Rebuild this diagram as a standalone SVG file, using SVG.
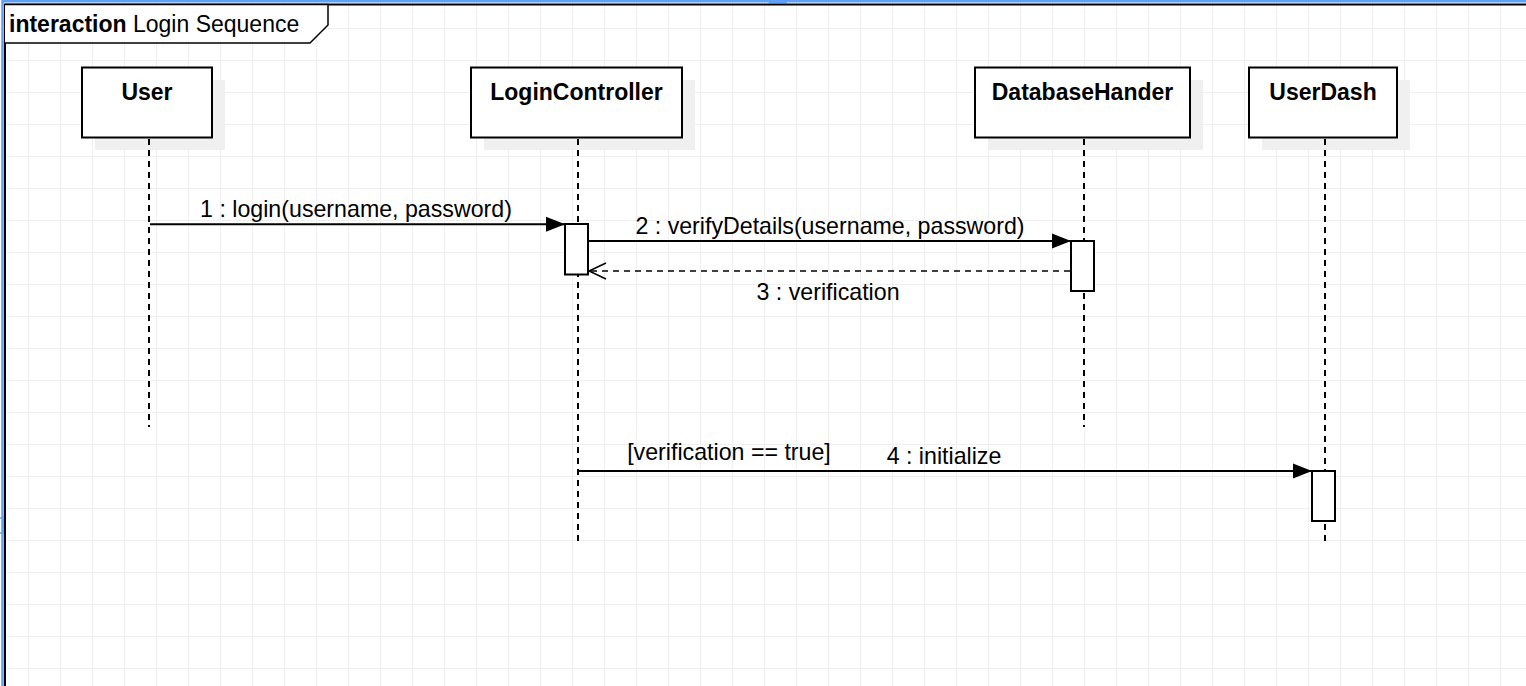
<svg xmlns="http://www.w3.org/2000/svg" width="1526" height="686" viewBox="0 0 1526 686">
<defs>
  <pattern id="grid" x="28" y="28" width="32" height="32" patternUnits="userSpaceOnUse">
    <path d="M0.5,0 V32 M0,0.5 H32" fill="none" stroke="#efefef" stroke-width="1"/>
  </pattern>
  <marker id="filled" markerWidth="20" markerHeight="16" refX="19" refY="8" orient="auto" markerUnits="userSpaceOnUse">
    <path d="M0,0.5 L19,8 L0,15.5 Z" fill="#000"/>
  </marker>
</defs>
<style>
  .box { fill: #fff; stroke: #000; stroke-width: 2; }
  .shadow { fill: #f0f0f0; stroke: none; }
  .life { stroke: #000; stroke-width: 2; stroke-dasharray: 6 5; fill: none; }
  .act { fill: #fff; stroke: #000; stroke-width: 2; }
  .name { font-family: "Liberation Sans", Arial, sans-serif; font-size: 23px; font-weight: bold; text-anchor: middle; fill: #000; }
  .lbl { font-family: "Liberation Sans", Arial, sans-serif; font-size: 23.2px; text-anchor: middle; fill: #000; }
  .msg { stroke: #000; stroke-width: 2; fill: none; }
  .ret { stroke: #000; stroke-width: 1.5; stroke-dasharray: 6 5; fill: none; }
  .sel { stroke: #5f9ff5; fill: none; }
</style>
<rect x="0" y="0" width="1526" height="686" fill="#fff"/>
<rect x="0" y="0" width="1526" height="686" fill="url(#grid)"/>

<g id="selection">
  <path class="sel" stroke-width="2.5" d="M2.5,686 V1.3 H1526"/>
  <path class="sel" stroke-width="1.5" d="M769.5,0 V2.5 H786 V0"/>
  <path class="sel" stroke-width="1.5" d="M0,518 H3 V533 H0"/>
</g>

<g id="frame">
  <path d="M5,686 V4.5 H1526" fill="none" stroke="#000" stroke-width="2"/>
  <path d="M5,4.5 H328 V25 L310,43 H5" fill="#fff" stroke="#000" stroke-width="1.5"/>
  <text x="9" y="32" font-family="'Liberation Sans', Arial, sans-serif" font-size="23" fill="#000"><tspan font-weight="bold">interaction</tspan> Login Sequence</text>
</g>

<g id="User">
  <rect class="shadow" x="95" y="80" width="130" height="70"/>
  <rect class="box" x="82" y="67.5" width="130" height="70"/>
  <text class="name" x="147" y="100">User</text>
</g>
<g id="LoginController">
  <rect class="shadow" x="484" y="80" width="211" height="70"/>
  <rect class="box" x="471" y="67.5" width="211" height="70"/>
  <text class="name" x="576.5" y="100" font-size="23.5">LoginController</text>
</g>
<g id="DatabaseHander">
  <rect class="shadow" x="988" y="80" width="215" height="70"/>
  <rect class="box" x="975" y="67.5" width="215" height="70"/>
  <text class="name" x="1082.5" y="100">DatabaseHander</text>
</g>
<g id="UserDash">
  <rect class="shadow" x="1262" y="80" width="148" height="70"/>
  <rect class="box" x="1249" y="67.5" width="148" height="70"/>
  <text class="name" x="1323" y="100">UserDash</text>
</g>

<g id="lifelines">
  <path class="life" d="M149,139 V427"/>
  <path class="life" d="M578,139 V546"/>
  <path class="life" d="M1084,139 V427"/>
  <path class="life" d="M1325,139 V546"/>
</g>

<g id="activations">
  <rect class="act" x="565" y="224" width="23" height="50.5"/>
  <rect class="act" x="1071" y="241" width="23" height="50"/>
  <rect class="act" x="1312" y="471" width="23" height="50"/>
</g>

<g id="connectors">
  <path class="msg" d="M150,224.3 H565" marker-end="url(#filled)"/>
  <text class="lbl" x="356" y="217">1 : login(username, password)</text>
  <path class="msg" d="M588,241 H1071" marker-end="url(#filled)"/>
  <text class="lbl" x="830" y="234">2 : verifyDetails(username, password)</text>
  <path class="ret" d="M1070,271 H589"/>
  <path d="M606,263 L589,271 L606,279" fill="none" stroke="#000" stroke-width="1.5"/>
  <text class="lbl" x="828" y="300">3 : verification</text>
  <path class="msg" d="M579,471 H1312" marker-end="url(#filled)"/>
  <text class="lbl" x="729" y="460">[verification == true]</text>
  <text class="lbl" x="944" y="464">4 : initialize</text>
</g>
</svg>
